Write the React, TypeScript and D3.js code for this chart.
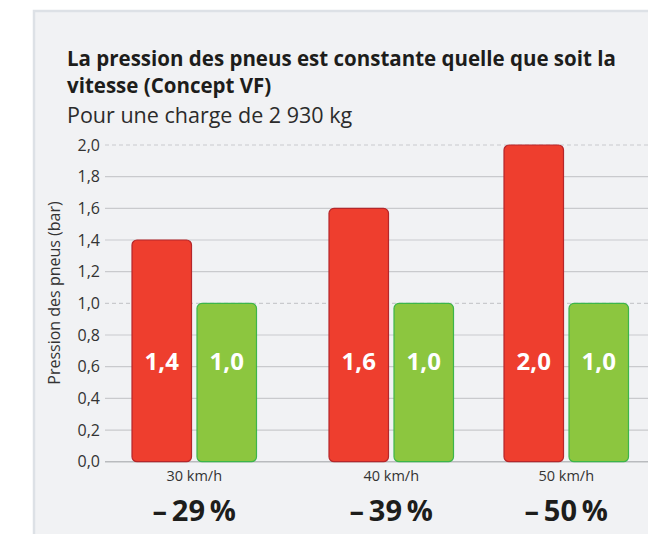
import React, { useEffect, useRef } from "react";
import * as d3 from "d3";

// data
const speeds = ["30 km/h", "40 km/h", "50 km/h"];
const conventional = [1.4, 1.6, 2.0];
const conceptVF = [1.0, 1.0, 1.0];
const reductions = ["29", "39", "50"];
const yTicks = [0, 0.2, 0.4, 0.6, 0.8, 1.0, 1.2, 1.4, 1.6, 1.8, 2.0];

const fmt = (v: number) => d3.format(".1f")(v).replace(".", ",");

export default function App() {
  const ref = useRef<SVGSVGElement>(null);

  useEffect(() => {
    const width = 648, height = 534;
    const svg = d3.select(ref.current);
    svg.selectAll("*").remove();
    const font = "'Open Sans', 'Noto Sans', sans-serif";

    // gray panel
    svg.append("rect").attr("x", 34).attr("y", 11).attr("width", width).attr("height", height)
      .attr("fill", "#f1f2f4").attr("stroke", "#dde1e6").attr("stroke-width", 2.5);

    svg.append("text").attr("x", 67).attr("y", 66)
      .style("font", `bold 20.5px ${font}`).attr("fill", "#1d1d1b")
      .text("La pression des pneus est constante quelle que soit la");
    svg.append("text").attr("x", 67).attr("y", 93)
      .style("font", `bold 20.5px ${font}`).attr("fill", "#1d1d1b")
      .text("vitesse (Concept VF)");
    svg.append("text").attr("x", 67).attr("y", 123)
      .style("font", `21.5px ${font}`).attr("fill", "#2b2b2b")
      .text("Pour une charge de 2 930 kg");

    const y = d3.scaleLinear().domain([0, 2]).range([461.7, 145]);
    const groupX = d3.scaleOrdinal<string, number>().domain(speeds).range([132, 329, 504]);
    const barW = 59.5, gap = 5.5;

    // grid
    const grid = svg.append("g");
    grid.selectAll("line").data(yTicks).enter().append("line")
      .attr("x1", 105).attr("x2", width)
      .attr("y1", d => y(d)).attr("y2", d => y(d))
      .attr("stroke", d => (d === 0 ? "#b9bbbe" : "#c9cacd"))
      .attr("stroke-width", d => (d === 0 ? 1.5 : 1.2))
      .attr("stroke-dasharray", d => (d === 1 || d === 2 ? "4,3" : null));

    const axis = svg.append("g").attr("transform", "translate(100,0)")
      .call(d3.axisLeft(y).tickValues(yTicks).tickFormat(d => fmt(+d)).tickSize(0).tickPadding(0));
    axis.select(".domain").remove();
    axis.selectAll("text").style("font", `16px ${font}`).attr("fill", "#333");

    svg.append("text")
      .attr("transform", `translate(60,293) rotate(-90)`)
      .attr("text-anchor", "middle")
      .style("font", `16px ${font}`).attr("fill", "#333")
      .text("Pression des pneus (bar)");

    const labelY = y(0.64);
    speeds.forEach((s, i) => {
      const x0 = groupX(s);
      const bars = [
        { v: conventional[i], x: x0, fill: "#ee3e2e", stroke: "#b5262a" },
        { v: conceptVF[i], x: x0 + barW + gap, fill: "#8cc63f", stroke: "#3cb54a" },
      ];
      bars.forEach(b => {
        svg.append("rect").attr("x", b.x).attr("y", y(b.v)).attr("width", barW)
          .attr("height", y(0) - y(b.v)).attr("rx", 5)
          .attr("fill", b.fill).attr("stroke", b.stroke).attr("stroke-width", 1.2);
        svg.append("text").attr("x", b.x + barW / 2).attr("y", labelY)
          .attr("text-anchor", "middle").attr("dominant-baseline", "central")
          .style("font", `bold 24px ${font}`).attr("fill", "#fff")
          .text(fmt(b.v));
      });
      const cx = x0 + barW + gap / 2;
      svg.append("text").attr("x", cx).attr("y", 481).attr("text-anchor", "middle")
        .style("font", `14.5px ${font}`).attr("fill", "#333").text(s);
      svg.append("text").attr("x", cx).attr("y", 521).attr("text-anchor", "middle")
        .style("font", `bold 29px ${font}`).attr("fill", "#1d1d1b")
        .text(`–\u2009${reductions[i]}\u2009%`);
    });
  }, []);

  return (
    <svg ref={ref} width={648} height={534}
      style={{ position: "absolute", left: 0, top: 0, background: "#fff" }} />
  );
}
